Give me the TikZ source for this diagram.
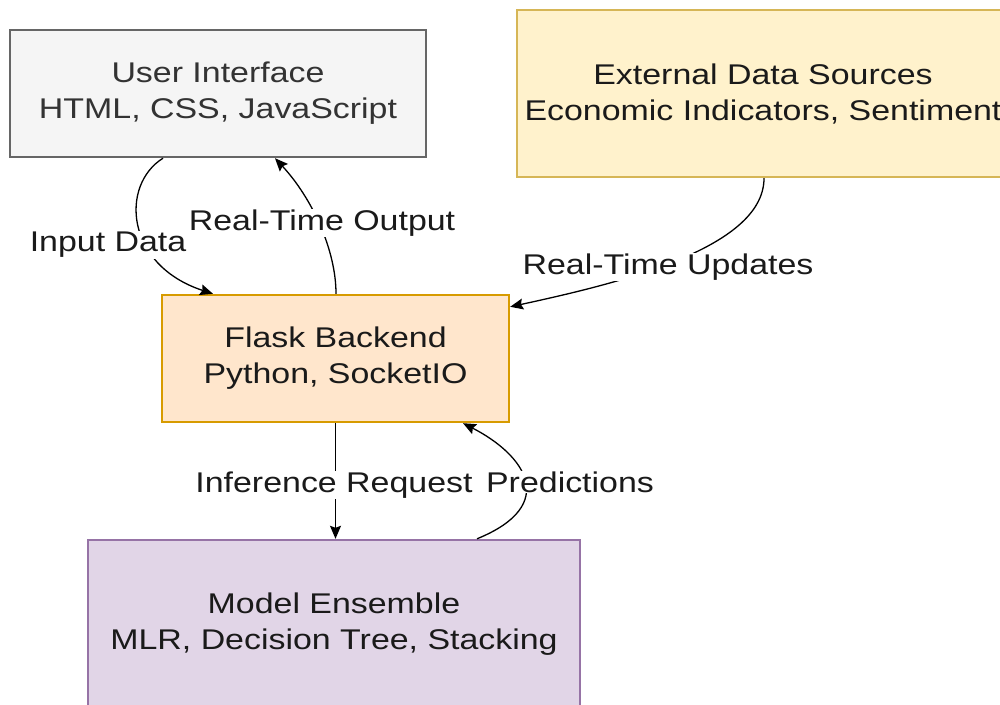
\documentclass[tikz,border=0pt]{standalone}
\usepackage{fontspec}
\setmainfont{Liberation Sans}[FakeStretch=1.19]
\usetikzlibrary{arrows.meta,calc}
\definecolor{uifill}{HTML}{F5F5F5}
\definecolor{uidraw}{HTML}{666666}
\definecolor{uitext}{HTML}{333333}
\definecolor{extfill}{HTML}{FFF2CC}
\definecolor{extdraw}{HTML}{D6B656}
\definecolor{flfill}{HTML}{FFE6CC}
\definecolor{fldraw}{HTML}{D79B00}
\definecolor{mdfill}{HTML}{E1D5E7}
\definecolor{mddraw}{HTML}{9673A6}
\definecolor{txt}{HTML}{1A1A1A}
\tikzset{
  box/.style={draw, rectangle, line width=2.4pt, align=center, text=txt,
    font=\fontsize{28.5}{36}\selectfont, inner sep=0pt},
  conn/.style={line width=1.3pt, draw=black, -{Stealth[length=13pt,width=11pt,inset=2pt]}},
  lbl/.style={fill=white, inner sep=1pt, text=txt, font=\fontsize{28.5}{36}\selectfont}
}
\begin{document}
\begin{tikzpicture}[x=1pt,y=-1pt]
\useasboundingbox (0,0) rectangle (1000,704);
\clip (0,0) rectangle (1000,704);
\node[box, fill=uifill, draw=uidraw, text=uitext, minimum width=416pt, minimum height=127pt] (ui) at (218,93.5) {\raisebox{-2pt}{User Interface}\\\raisebox{-2pt}{HTML, CSS, JavaScript}};
\node[box, fill=extfill, draw=extdraw, minimum width=492pt, minimum height=167pt] (ext) at (763,93.5) {External Data Sources\\Economic Indicators, Sentiment};
\node[box, fill=flfill, draw=fldraw, minimum width=347pt, minimum height=127pt] (flask) at (335.5,358.5) {\raisebox{-2pt}{Flask Backend}\\\raisebox{-2pt}{Python, SocketIO}};
\node[box, fill=mdfill, draw=mddraw, minimum width=492pt, minimum height=168pt] (model) at (334,624) {Model Ensemble\\MLR, Decision Tree, Stacking};

% Input Data
\draw[conn] ($(ui.south)+(-55,0)$) .. controls (120,185) and (125,265) .. ($(flask.north)+(-122.5,0)$);
\node[lbl] (linput) at (108,245) {Input Data};
% Real-Time Output
\draw[conn] ($(flask.north)+(0.5,0)$) .. controls (336,250) and (312,198) .. ($(ui.south)+(57,0)$);
\node[lbl] (loutput) at (322,223) {Real-Time Output};
% Real-Time Updates
\draw[conn] ($(ext.south)+(1,0)$) .. controls (764,250) and (610,285) .. ($(flask.north east)+(0,13)$);
\node[lbl] (lupdates) at (668,267) {Real-Time Updates};
% Inference Request
\draw[conn] (flask.south) -- (flask.south |- model.north);
\node[lbl] (linfer) at (334,485) {Inference Request};
% Predictions
\draw[conn] ($(model.north)+(143,0)$) .. controls (560,505) and (525,455) .. ($(flask.south)+(127.5,0)$);
\node[lbl] (lpred) at (570,482) {Predictions};
\end{tikzpicture}
\end{document}
